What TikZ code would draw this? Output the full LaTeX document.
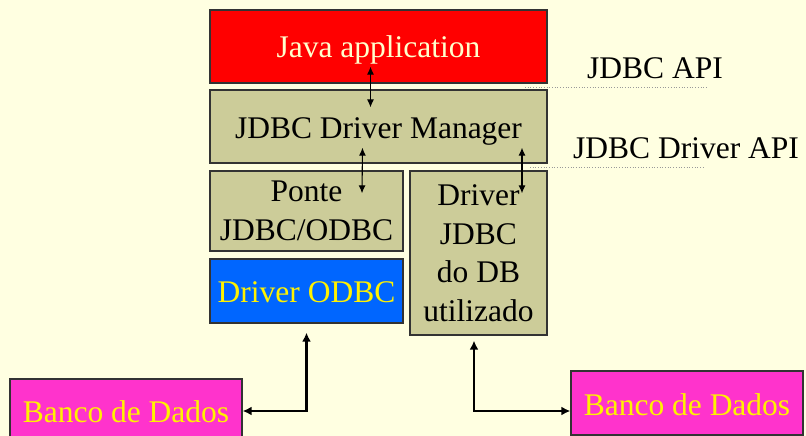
\documentclass[tikz,border=0pt]{standalone}
\usepackage{fontspec}
\setmainfont{Liberation Serif}
\usetikzlibrary{arrows.meta,calc}

\definecolor{bgyellow}{HTML}{FFFFE1}
\definecolor{javared}{HTML}{FF0000}
\definecolor{khaki}{HTML}{CCCC99}
\definecolor{odbcblue}{HTML}{0066FF}
\definecolor{dbpink}{HTML}{FF33CC}
\definecolor{cream}{HTML}{FFFFCC}
\definecolor{edge}{HTML}{333333}

\tikzset{
  box/.style={draw=edge, line width=1.3pt, rectangle, inner sep=0pt, align=center,
              font=\fontsize{31.5}{38.5}\selectfont},
  oneline/.style={text height=#1, text depth=0pt},
  oneline/.default=22pt,
  thinlink/.style={line width=1.1pt, {Latex[length=8pt,width=7pt]}-{Latex[length=8pt,width=7pt]}},
  thicklink/.style={line width=2.4pt, {Latex[length=9pt,width=9pt]}-{Latex[length=9pt,width=9pt]}},
  apiline/.style={draw=gray!80, dotted, line width=0.7pt},
  apilabel/.style={anchor=base, inner sep=0pt, font=\fontsize{31.5}{38}\selectfont},
}

\begin{document}
\begin{tikzpicture}[x=1pt, y=-1pt]
  % page
  \useasboundingbox (0,0) rectangle (806,436);
  \fill[bgyellow] (0,0) rectangle (806,436);

  % layers
  \node[box, oneline, fill=javared, text=cream, minimum width=337pt, minimum height=73pt]
    (java) at (378.5,46.5) {Java application};
  \node[box, oneline=23pt, fill=khaki, minimum width=337pt, minimum height=73pt]
    (mgr) at (378.5,126.5) {JDBC Driver Manager};
  \node[box, fill=khaki, minimum width=193pt, minimum height=80pt]
    (ponte) at (306.5,211) {Ponte\\JDBC/ODBC};
  \node[box, fill=khaki, minimum width=137pt, minimum height=164pt]
    (djdbc) at (478.5,253) {Driver\\JDBC\\do DB\\utilizado};
  \node[box, oneline, fill=odbcblue, text=yellow, minimum width=193pt, minimum height=64pt]
    (odbc) at (306.5,291) {Driver ODBC};
  \node[box, oneline, fill=dbpink, text=yellow, minimum width=232pt, minimum height=64pt]
    (dbL) at (126,411) {Banco de Dados};
  \node[box, oneline=24pt, fill=dbpink, text=yellow, minimum width=232pt, minimum height=64pt]
    (dbR) at (687,403) {Banco de Dados};

  % API boundaries
  \coordinate (api1a) at (525,87);
  \coordinate (api1b) at (708,87);
  \coordinate (api2a) at (530,167);
  \coordinate (api2b) at (705,167);
  \draw[apiline] (api1a) -- (api1b);
  \draw[apiline] (api2a) -- (api2b);
  \node[apilabel] (apiA) at (655,78) {JDBC API};
  \node[apilabel] (apiB) at (686,158) {JDBC Driver API};

  % calls between layers
  \draw[thinlink] ($(java.south)+(-8,-17)$) -- ($(mgr.north)+(-8,18)$);
  \draw[thinlink] ($(mgr.south)+(-16,-16)$) -- ($(ponte.north)+(55.5,23)$);
  \draw[thinlink] ($(mgr.south)+(143.5,-16)$) -- ($(djdbc.north)+(43.5,23)$);

  % database access
  \draw[thicklink] ($(odbc.south)+(0,9)$) |- (dbL.east);
  \draw[thicklink] ($(djdbc.south)+(-4.5,5)$) |- ($(dbR.west)+(0,8)$);
\end{tikzpicture}
\end{document}
